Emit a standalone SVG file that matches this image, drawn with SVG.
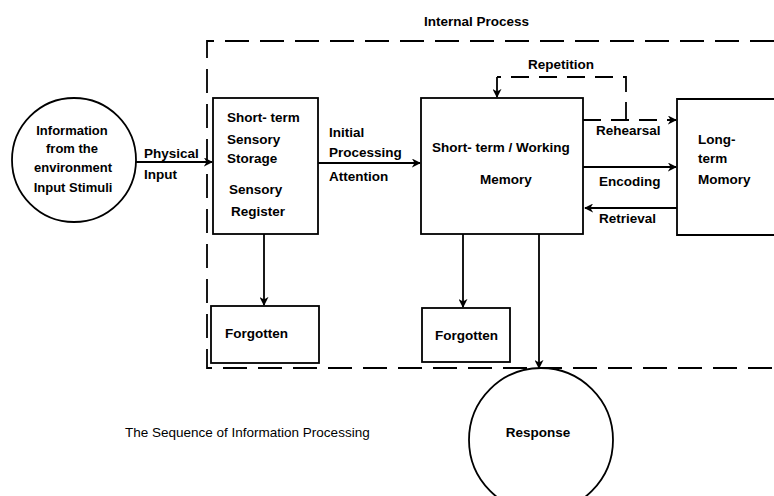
<svg xmlns="http://www.w3.org/2000/svg" width="774" height="496" viewBox="0 0 774 496">
  <defs>
    <marker id="arrow" viewBox="0 0 10 10" refX="9" refY="5" markerWidth="9" markerHeight="9" markerUnits="userSpaceOnUse" orient="auto">
      <path d="M0,0 L10,5 L0,10 L3,5 z" fill="#000"/>
    </marker>
    <style>
      .box { fill: #fff; stroke: #000; stroke-width: 1.8; }
      .ring { fill: #fff; stroke: #000; stroke-width: 1.8; }
      .line { fill: none; stroke: #000; stroke-width: 1.8; }
      .dash { fill: none; stroke: #000; stroke-width: 1.8; stroke-dasharray: 24 11; }
      .dash-s { fill: none; stroke: #000; stroke-width: 1.8; stroke-dasharray: 18 10; }
      .lbl { font-family: "Liberation Sans", Arial, sans-serif; font-size: 13.5px; font-weight: bold; fill: #000; }
      .lbl-s { font-family: "Liberation Sans", Arial, sans-serif; font-size: 13px; font-weight: bold; fill: #000; }
      .cap { font-family: "Liberation Sans", Arial, sans-serif; font-size: 13.5px; fill: #000; }
    </style>
  </defs>
  <rect width="774" height="496" fill="#fff"/>

  <!-- internal process boundary -->
  <g id="internal-process">
    <path class="dash" d="M774,41 L207,41 L207,368 L774,368"/>
    <text class="lbl" x="424" y="26">Internal Process</text>
  </g>

  <!-- connectors -->
  <g id="connectors">
    <line class="line" x1="136" y1="162" x2="212" y2="162" marker-end="url(#arrow)"/>
    <line class="line" x1="318" y1="163" x2="420" y2="163" marker-end="url(#arrow)"/>
    <!-- repetition loop -->
    <path class="dash-s" d="M626,120 L626,77 L497,77"/>
    <line class="line" x1="497" y1="77" x2="497" y2="97" marker-end="url(#arrow)"/>
    <line class="dash-s" x1="583" y1="120" x2="676" y2="120" marker-end="url(#arrow)"/>
    <line class="line" x1="583" y1="167" x2="676" y2="167" marker-end="url(#arrow)"/>
    <line class="line" x1="677" y1="208" x2="585" y2="208" marker-end="url(#arrow)"/>
    <line class="line" x1="264" y1="234" x2="264" y2="305" marker-end="url(#arrow)"/>
    <line class="line" x1="463" y1="234" x2="463" y2="307" marker-end="url(#arrow)"/>
    <line class="line" x1="539" y1="234" x2="539" y2="368" marker-end="url(#arrow)"/>
    <text class="lbl" x="144" y="158">Physical</text>
    <text class="lbl" x="144" y="179">Input</text>
    <text class="lbl" x="329" y="137">Initial</text>
    <text class="lbl" x="329" y="157">Processing</text>
    <text class="lbl" x="329" y="181">Attention</text>
    <text class="lbl" x="528" y="69">Repetition</text>
    <text class="lbl" x="596" y="135">Rehearsal</text>
    <text class="lbl" x="599" y="186">Encoding</text>
    <text class="lbl" x="599" y="223">Retrieval</text>
  </g>

  <g id="environment">
    <circle class="ring" cx="74" cy="160" r="62"/>
    <text class="lbl-s" x="72" y="135" text-anchor="middle">Information</text>
    <text class="lbl-s" x="72" y="153" text-anchor="middle">from the</text>
    <text class="lbl-s" x="73" y="172" text-anchor="middle">environment</text>
    <text class="lbl-s" x="73" y="192" text-anchor="middle">Input Stimuli</text>
  </g>

  <g id="sensory-register">
    <rect class="box" x="213" y="98" width="105" height="136"/>
    <text class="lbl" x="227" y="122">Short- term</text>
    <text class="lbl" x="227" y="144">Sensory</text>
    <text class="lbl" x="227" y="163">Storage</text>
    <text class="lbl" x="229" y="194">Sensory</text>
    <text class="lbl" x="231" y="216">Register</text>
  </g>

  <g id="working-memory">
    <rect class="box" x="421" y="98" width="162" height="136"/>
    <text class="lbl" x="432" y="152">Short- term / Working</text>
    <text class="lbl" x="480" y="184">Memory</text>
  </g>

  <g id="long-term-memory">
    <path class="box" d="M774,99 L677,99 L677,235 L774,235"/>
    <text class="lbl" x="698" y="144">Long-</text>
    <text class="lbl" x="698" y="163">term</text>
    <text class="lbl" x="698" y="184">Momory</text>
  </g>

  <g id="forgotten-sensory">
    <rect class="box" x="211" y="306" width="108" height="57"/>
    <text class="lbl" x="225" y="338">Forgotten</text>
  </g>

  <g id="forgotten-working">
    <rect class="box" x="422" y="308" width="88" height="54"/>
    <text class="lbl" x="435" y="340">Forgotten</text>
  </g>

  <g id="response">
    <circle class="ring" cx="541" cy="440" r="72"/>
    <text class="lbl" x="538" y="437" text-anchor="middle">Response</text>
  </g>

  <g id="caption">
    <text class="cap" x="125" y="437">The Sequence of Information Processing</text>
  </g>
</svg>
